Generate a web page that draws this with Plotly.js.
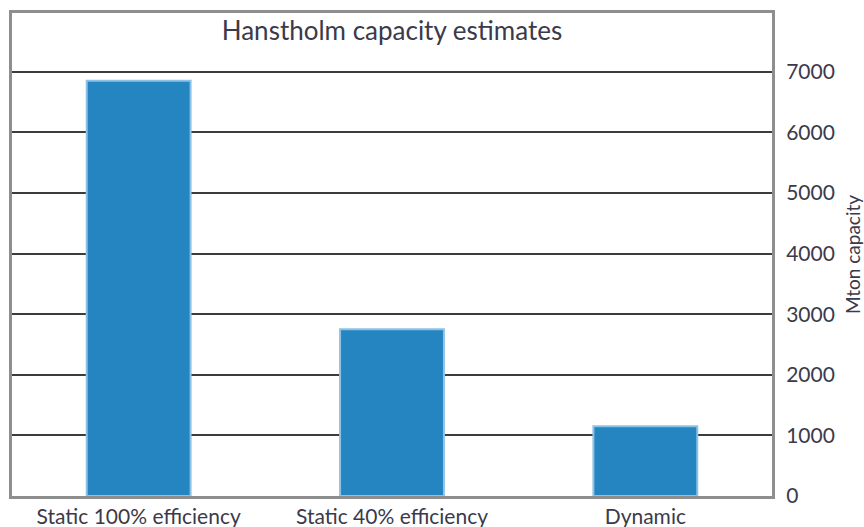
<!DOCTYPE html>
<html>
<head>
<meta charset="utf-8">
<script src="https://cdn.plot.ly/plotly-3.0.1.min.js"></script>
<style>html,body{margin:0;padding:0;background:#fff;}#chart{width:864px;height:527px;}</style>
</head>
<body>
<div id="chart"></div>
<script>
const categories = ["Static 100% efficiency", "Static 40% efficiency", "Dynamic"];
const capacity = [6850, 2750, 1150];
const yTickVals = [0, 1000, 2000, 3000, 4000, 5000, 6000, 7000];
const yTickText = ["0", "1000", "2000", "3000", "4000", "5000", "6000", "7000"];
const chartTitle = "Hanstholm capacity estimates";
const yTitle = "Mton capacity";

const fontFam = 'Lato, "Open Sans", sans-serif';
const textColor = '#3b3a4a';

const trace = {
  type: 'bar',
  x: categories,
  y: capacity,
  marker: {color: '#2585c1', line: {color: '#8cc2e6', width: 2}},
  hoverinfo: 'skip'
};

const layout = {
  width: 864, height: 527,
  margin: {l: 12, r: 92, t: 13, b: 31, pad: 0},
  paper_bgcolor: '#ffffff', plot_bgcolor: '#ffffff',
  showlegend: false,
  bargap: 0.59,
  title: {
    text: chartTitle,
    font: {family: fontFam, size: 26, color: textColor},
    x: 0.5, xref: 'paper', xanchor: 'center',
    y: 0.962, yref: 'paper', yanchor: 'middle'
  },
  xaxis: {
    type: 'category',
    showline: true, mirror: true, linecolor: '#8e8e8e', linewidth: 3,
    showgrid: false, zeroline: false, ticks: '',
    tickfont: {family: fontFam, size: 21, color: textColor},
    ticklabelstandoff: 0
  },
  yaxis: {
    side: 'right',
    range: [0, 7970],
    tickvals: yTickVals, ticktext: yTickText,
    showline: true, mirror: true, linecolor: '#8e8e8e', linewidth: 3,
    showgrid: true, gridcolor: '#3c3c3c', gridwidth: 2,
    zeroline: false, ticks: '',
    tickfont: {family: fontFam, size: 21, color: textColor},
    ticklabelstandoff: 7,
    title: {text: yTitle, font: {family: fontFam, size: 19, color: textColor}, standoff: 14}
  }
};

Plotly.newPlot('chart', [trace], layout, {staticPlot: true, displayModeBar: false});
</script>
</body>
</html>
